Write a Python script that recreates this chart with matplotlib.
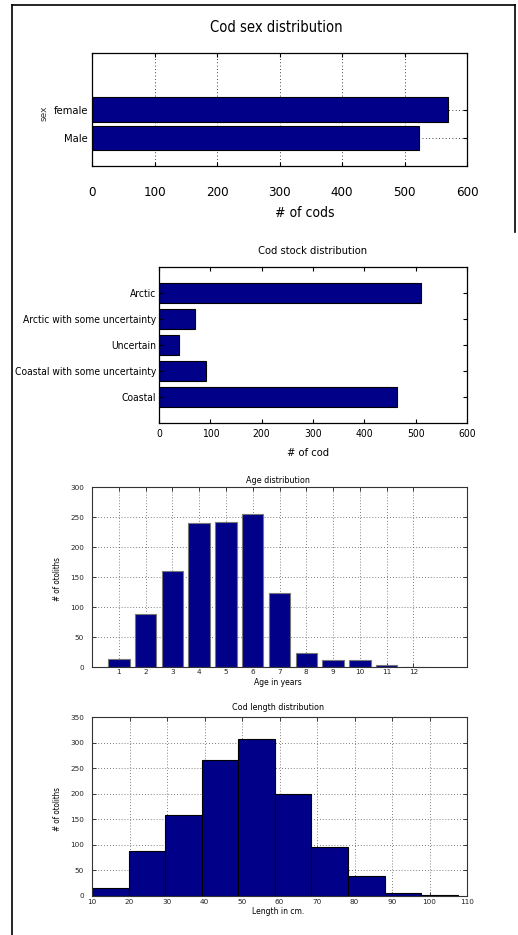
import os
import matplotlib
matplotlib.use("Agg")
import matplotlib.pyplot as plt
from matplotlib.lines import Line2D
from matplotlib import font_manager
from matplotlib.font_manager import FontProperties

# ---- data ----
sex_labels = ["Male", "female"]
sex_counts = [523, 569]

stock_labels = ["Coastal", "Coastal with some uncertainty", "Uncertain",
                "Arctic with some uncertainty", "Arctic"]
stock_counts = [464, 92, 38, 70, 511]

age_years = [1, 2, 3, 4, 5, 6, 7, 8, 9, 10, 11, 12]
age_counts = [13, 88, 160, 240, 242, 255, 123, 24, 12, 12, 4, 0]

length_edges = [10, 19.75, 29.5, 39.25, 49, 58.75, 68.5, 78.25, 88, 97.75, 107.5]
length_counts = [16, 88, 158, 265, 307, 200, 95, 40, 5, 1]

# ---- styling ----
W, H = 518, 935
DPI = 100
BAR = "#000088"
WIDE = "DejaVu Sans"


def pick_narrow_font():
    """Path of the narrowest regular sans face available."""
    files = {os.path.basename(f.fname): f.fname for f in font_manager.fontManager.ttflist}
    for name in ["LiberationSansNarrow-Regular.ttf", "NotoSans-Condensed.ttf",
                 "DejaVuSansCondensed.ttf", "RobotoCondensed-Regular.ttf",
                 "OpenSans-CondensedRegular.ttf"]:
        if name in files:
            return files[name]
    return font_manager.findfont(FontProperties(family="Liberation Sans"))


NARROW_FILE = pick_narrow_font()


def narrow(size):
    return FontProperties(fname=NARROW_FILE, size=size)


def px2pt(px):
    return px * 72 / DPI


fig = plt.figure(figsize=(W / DPI, H / DPI), dpi=DPI)
fig.patch.set_facecolor("white")


def px_axes(x0, y0, x1, y1):
    return fig.add_axes([x0 / W, 1 - y1 / H, (x1 - x0) / W, (y1 - y0) / H])


def frame(ax, lw=0.9, color="black"):
    for s in ax.spines.values():
        s.set_linewidth(lw)
        s.set_color(color)


def style_ticks(ax, xfp, yfp, xpad_px, ypad_px):
    ax.tick_params(axis="x", pad=px2pt(xpad_px))
    ax.tick_params(axis="y", pad=px2pt(ypad_px))
    for t in ax.get_xticklabels():
        if xfp is not None:
            t.set_fontproperties(xfp)
        t.set_verticalalignment("center")
    for t in ax.get_yticklabels():
        if yfp is not None:
            t.set_fontproperties(yfp)


def fig_text(cx, cy, s, **kw):
    fig.text(cx / W, 1 - cy / H, s, ha="center", va="center", **kw)


# ---- 1: sex distribution ----
ax1 = px_axes(92, 53, 467, 166)
ax1.set_axisbelow(True)
ax1.grid(True, linestyle=(0, (1, 3)), color="black", linewidth=0.6)
ax1.barh([1, 2], sex_counts, height=0.86, color=BAR, edgecolor="black", linewidth=0.8)
ax1.set_xlim(0, 600)
ax1.set_ylim(0, 4)
ax1.set_xticks(range(0, 601, 100))
ax1.set_yticks([1, 2])
ax1.set_yticklabels(sex_labels)
ax1.tick_params(direction="in", top=True, right=True, length=3, width=0.8)
frame(ax1)
style_ticks(ax1, narrow(9.5), narrow(8), 26, 4)
ax1.set_xlabel("# of cods", fontproperties=narrow(10), va="center")
ax1.xaxis.set_label_coords(0.568, -0.416)
ax1.set_ylabel("sex", family=WIDE, fontsize=6.5, color="#333333", va="center")
ax1.yaxis.set_label_coords(-0.127, 0.469)
fig_text(276, 28, "Cod sex distribution", fontproperties=narrow(10.5))

# ---- 2: stock distribution ----
ax2 = px_axes(159, 267, 467, 423)
ax2.barh([1, 2, 3, 4, 5], stock_counts, height=0.8, color=BAR, edgecolor="black", linewidth=0.8)
ax2.set_xlim(0, 600)
ax2.set_ylim(0, 6)
ax2.set_xticks(range(0, 601, 100))
ax2.set_yticks([1, 2, 3, 4, 5])
ax2.set_yticklabels(stock_labels)
ax2.tick_params(direction="in", top=True, right=True, length=3, width=0.8)
frame(ax2)
style_ticks(ax2, narrow(7.5), narrow(7.4), 11, 3)
ax2.set_xlabel("# of cod", fontproperties=narrow(8), va="center")
ax2.xaxis.set_label_coords(0.484, -0.192)
fig_text(312.5, 251, "Cod stock distribution", fontproperties=narrow(8))

# ---- 3: age distribution ----
ax3 = px_axes(92, 487, 467, 667)
ax3.set_axisbelow(True)
ax3.grid(True, linestyle=(0, (1, 2.5)), color="#555555", linewidth=0.6)
ax3.bar(age_years, age_counts, width=0.8, color=BAR, edgecolor="#777777", linewidth=0.8)
ax3.set_xlim(0, 14)
ax3.set_ylim(0, 300)
ax3.set_xticks(age_years)
ax3.set_yticks(range(0, 301, 50))
ax3.tick_params(direction="in", top=True, right=True, length=3, width=0.6,
                labelsize=5.2, colors="#222222")
for t in ax3.get_xticklabels() + ax3.get_yticklabels():
    t.set_fontfamily(WIDE)
style_ticks(ax3, None, None, 5, 8)
frame(ax3, 0.8, "#333333")
ax3.set_xlabel("Age in years", family=WIDE, fontsize=5.5, va="center")
ax3.xaxis.set_label_coords(0.496, -0.085)
ax3.set_ylabel("# of otoliths", fontproperties=narrow(5.8), va="center")
ax3.yaxis.set_label_coords(-0.093, 0.49)
fig_text(278, 480, "Age distribution", family=WIDE, fontsize=5.8)

# ---- 4: length distribution ----
ax4 = px_axes(92, 717, 467, 896)
ax4.set_axisbelow(True)
ax4.grid(True, linestyle=(0, (1, 2.5)), color="#555555", linewidth=0.6)
widths = [b - a for a, b in zip(length_edges[:-1], length_edges[1:])]
ax4.bar(length_edges[:-1], length_counts, width=widths, align="edge",
        color=BAR, edgecolor="black", linewidth=0.8)
ax4.set_xlim(10, 110)
ax4.set_ylim(0, 350)
ax4.set_xticks(range(10, 111, 10))
ax4.set_yticks(range(0, 351, 50))
ax4.tick_params(direction="in", top=True, right=True, length=3, width=0.6,
                labelsize=5.2, colors="#222222")
for t in ax4.get_xticklabels() + ax4.get_yticklabels():
    t.set_fontfamily(WIDE)
style_ticks(ax4, None, None, 6, 8)
frame(ax4, 0.8, "#333333")
ax4.set_xlabel("Length in cm.", family=WIDE, fontsize=5.5, va="center")
ax4.xaxis.set_label_coords(0.496, -0.085)
ax4.set_ylabel("# of otoliths", fontproperties=narrow(5.8), va="center")
ax4.yaxis.set_label_coords(-0.093, 0.486)
fig_text(278, 708, "Cod length distribution", family=WIDE, fontsize=5.8)

# ---- outer page frame ----
fx0, fy0, fx1 = 12 / W, 1 - 5 / H, 515 / W
fig.add_artist(Line2D([fx0, fx0], [0, fy0], color="black", linewidth=1.2))
fig.add_artist(Line2D([fx0, fx1], [fy0, fy0], color="black", linewidth=1.2))
fig.add_artist(Line2D([fx1, fx1], [fy0, 1 - 232 / H], color="black", linewidth=1.2))

fig.savefig("out.png", dpi=DPI)
